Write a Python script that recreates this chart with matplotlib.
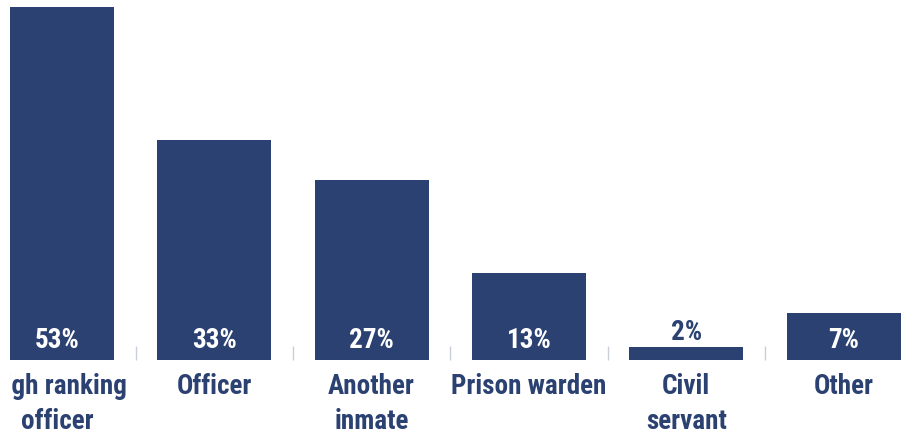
import matplotlib
matplotlib.use("Agg")
import matplotlib.pyplot as plt
from matplotlib import font_manager
from matplotlib.patches import Rectangle
import numpy as np

categories = ["High ranking\nofficer", "Officer", "Another\ninmate", "Prison warden", "Civil\nservant", "Other"]
shares = [53, 33, 27, 13, 2, 7]

navy = "#2B4171"

# narrow font if one is around, otherwise plain sans
installed = {f.name for f in font_manager.fontManager.ttflist}
family = "DejaVu Sans"
for name in ["Roboto Condensed", "Liberation Sans Narrow", "Arial Narrow", "Roboto", "Liberation Sans"]:
    if name in installed:
        family = name
        break
plt.rcParams["font.family"] = family
plt.rcParams["font.weight"] = "bold"

W, H = 909, 432
fig = plt.figure(figsize=(W / 100, H / 100), dpi=100)

# axes from x=10px to the right edge, bottom at 360px, top at 0px
ax = fig.add_axes([10 / W, 72 / H, (W - 10) / W, 360 / H])

x = np.arange(len(categories))
spacing = 157.3
left = (10 - 57) / spacing
right = (W - 57) / spacing
ax.bar(x, shares, width=114 / spacing, color=navy, zorder=2)
ax.set_xlim(left, right)
ax.set_ylim(0, 360 / 6.66)

for xi, v in zip(x, shares):
    if v * 6.66 > 30:
        ax.text(xi, 12 / 6.66, f"{v}%", ha="center", va="baseline",
                color="white", fontsize=19.5, zorder=3)
    else:
        ax.text(xi, v + 7 / 6.66, f"{v}%", ha="center", va="baseline",
                color=navy, fontsize=19.5, zorder=3)

for s in ax.spines.values():
    s.set_visible(False)
ax.set_yticks([])

# separators between categories as minor ticks, labels on the major ticks
ax.set_xticks(x)
ax.set_xticklabels(categories, fontsize=19.5, color=navy, linespacing=1.4)
ax.tick_params(axis="x", which="major", length=0, pad=9)
ax.set_xticks(x[:-1] + 0.5, minor=True)
ax.tick_params(axis="x", which="minor", direction="in", length=10,
               width=1, color="#C9CED9")

clip = Rectangle((10 / W, 0), 1, 1, transform=fig.transFigure)
for lbl in ax.get_xticklabels():
    lbl.set_clip_path(clip)
    lbl.set_clip_on(True)

fig.savefig("out.png", dpi=100)
